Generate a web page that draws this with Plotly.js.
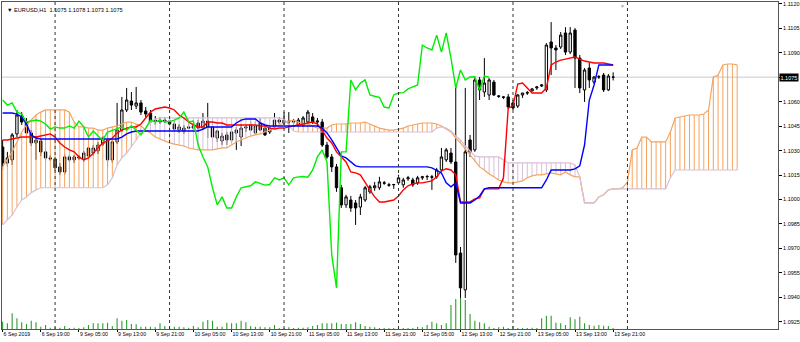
<!DOCTYPE html>
<html><head><meta charset="utf-8">
<script src="https://cdn.plot.ly/plotly-3.0.1.min.js"></script>
<style>html,body{margin:0;padding:0;background:#fff;}#chart{width:800px;height:342px;}</style>
</head><body><div id="chart"></div>
<script>
const symbol = 'EURUSD,H1';
const tickBars = [0,8,16,24,32,40,48,56,64,72,80,88,96,104,112,120,128];
const tickLabels = ['6 Sep 2019','6 Sep 19:00','9 Sep 05:00','9 Sep 13:00','9 Sep 21:00','10 Sep 05:00','10 Sep 13:00','10 Sep 21:00','11 Sep 05:00','11 Sep 13:00','11 Sep 21:00','12 Sep 05:00','12 Sep 13:00','12 Sep 21:00','13 Sep 05:00','13 Sep 13:00','13 Sep 21:00'];
const daySeparators = [11,35,59,83,107,131];
const priceTicks = [1.0925,1.0940,1.0955,1.0970,1.0985,1.1000,1.1015,1.1030,1.1045,1.1060,1.1075,1.1090,1.1105,1.1120];

const open = [1.10322,1.10224,1.10243,1.10402,1.10512,1.10475,1.10408,1.10347,1.10359,1.10292,
1.10255,1.10249,1.10200,1.10169,1.10261,1.10243,1.10261,1.10249,1.10267,1.10285,
1.10298,1.10340,1.10365,1.10243,1.10353,1.10426,1.10549,1.10604,1.10573,1.10592,
1.10543,1.10530,1.10487,1.10475,1.10487,1.10481,1.10463,1.10426,1.10420,1.10445,
1.10438,1.10469,1.10438,1.10481,1.10445,1.10377,1.10359,1.10396,1.10365,1.10408,
1.10383,1.10438,1.10457,1.10408,1.10469,1.10438,1.10414,1.10445,1.10487,1.10469,
1.10481,1.10475,1.10457,1.10457,1.10475,1.10506,1.10475,1.10475,1.10334,1.10261,
1.10200,1.10072,1.09967,1.09997,1.09979,1.09954,1.09997,1.10047,1.10072,1.10072,
1.10102,1.10090,1.10090,1.10102,1.10090,1.10127,1.10120,1.10102,1.10133,1.10139,
1.10139,1.10139,1.10181,1.10243,1.10285,1.10230,1.09672,1.09446,1.10365,1.10304,
1.10733,1.10659,1.10641,1.10720,1.10635,1.10629,1.10629,1.10592,1.10573,1.10641,
1.10653,1.10665,1.10684,1.10696,1.10672,1.10966,1.10929,1.10935,1.11021,1.10904,
1.11039,1.10867,1.10672,1.10806,1.10720,1.10751,1.10763,1.10672,1.1075];
const high = [1.10365,1.10292,1.10408,1.10549,1.10536,1.10500,1.10426,1.10389,1.10377,1.10310,
1.10273,1.10261,1.10224,1.10279,1.10273,1.10273,1.10273,1.10298,1.10328,1.10334,
1.10353,1.10389,1.10408,1.10365,1.10592,1.10629,1.10684,1.10659,1.10690,1.10610,
1.10567,1.10549,1.10512,1.10506,1.10506,1.10500,1.10481,1.10463,1.10457,1.10469,
1.10469,1.10487,1.10530,1.10592,1.10463,1.10426,1.10408,1.10414,1.10438,1.10445,
1.10463,1.10457,1.10481,1.10481,1.10500,1.10457,1.10451,1.10530,1.10506,1.10536,
1.10536,1.10494,1.10500,1.10512,1.10549,1.10530,1.10500,1.10494,1.10353,1.10279,
1.10218,1.10090,1.10029,1.10022,1.09997,1.10035,1.10084,1.10090,1.10108,1.10139,
1.10114,1.10102,1.10096,1.10151,1.10133,1.10145,1.10133,1.10145,1.10145,1.10151,
1.10151,1.10194,1.10316,1.10316,1.10316,1.10702,1.09709,1.10684,1.10396,1.10745,
1.10751,1.10867,1.10745,1.10733,1.10641,1.10635,1.10647,1.10610,1.10647,1.10653,
1.10665,1.10684,1.10696,1.10708,1.10959,1.11088,1.10947,1.11027,1.11057,1.11057,
1.11051,1.10886,1.10806,1.10837,1.10757,1.10763,1.10776,1.10769,1.1078];
const low = [1.10181,1.10200,1.10212,1.10383,1.10457,1.10389,1.10328,1.10243,1.10267,1.10237,
1.10237,1.10175,1.10151,1.10151,1.10230,1.10224,1.10243,1.10230,1.10249,1.10267,
1.10279,1.10328,1.10200,1.10224,1.10340,1.10414,1.10536,1.10549,1.10555,1.10518,
1.10506,1.10463,1.10457,1.10463,1.10469,1.10451,1.10420,1.10408,1.10402,1.10432,
1.10420,1.10420,1.10426,1.10377,1.10371,1.10353,1.10334,1.10334,1.10347,1.10304,
1.10328,1.10414,1.10420,1.10396,1.10420,1.10389,1.10402,1.10438,1.10463,1.10457,
1.10408,1.10463,1.10445,1.10445,1.10463,1.10463,1.10445,1.10322,1.10249,1.10169,
1.10047,1.09948,1.09948,1.09924,1.09844,1.09905,1.09985,1.10035,1.10053,1.10059,
1.10090,1.10078,1.10065,1.10090,1.10072,1.10114,1.10078,1.10090,1.10120,1.10120,
1.10059,1.10127,1.10169,1.10230,1.10218,1.09611,1.09263,1.09396,1.10261,1.10292,
1.10610,1.10629,1.10610,1.10635,1.10623,1.10616,1.10555,1.10549,1.10561,1.10623,
1.10641,1.10667,1.10672,1.10690,1.10659,1.10763,1.10794,1.10923,1.10886,1.10892,
1.10684,1.10653,1.10598,1.10684,1.10708,1.10739,1.10659,1.10665,1.1073];
const close = [1.10224,1.10255,1.10396,1.10518,1.10475,1.10408,1.10347,1.10365,1.10292,1.10255,
1.10249,1.10194,1.10169,1.10261,1.10243,1.10261,1.10255,1.10285,1.10316,1.10316,
1.10334,1.10377,1.10243,1.10353,1.10426,1.10549,1.10610,1.10579,1.10592,1.10536,
1.10524,1.10475,1.10481,1.10487,1.10481,1.10463,1.10432,1.10445,1.10438,1.10438,
1.10451,1.10438,1.10481,1.10445,1.10383,1.10420,1.10389,1.10365,1.10414,1.10426,
1.10438,1.10445,1.10426,1.10451,1.10426,1.10396,1.10438,1.10487,1.10475,1.10487,
1.10475,1.10478,1.10487,1.10500,1.10536,1.10475,1.10481,1.10334,1.10261,1.10200,
1.10072,1.09967,1.10016,1.09948,1.09948,1.10016,1.10072,1.10078,1.10084,1.10108,
1.10100,1.10088,1.10092,1.10133,1.10120,1.10133,1.10090,1.10133,1.10139,1.10141,
1.10137,1.10181,1.10261,1.10304,1.10230,1.09660,1.09458,1.10292,1.10292,1.10733,
1.10672,1.10714,1.10733,1.10641,1.10633,1.10627,1.10567,1.10561,1.10641,1.10653,
1.10655,1.10678,1.10690,1.10702,1.10947,1.10929,1.10917,1.11008,1.10904,1.11021,
1.10867,1.10684,1.10794,1.10733,1.10751,1.10753,1.10672,1.10757,1.1075];
const volume = [2200,1700,4700,3200,2000,1500,2500,2000,700,1200,
400,500,400,900,300,400,300,500,1200,1700,
1700,1700,1900,900,3200,2500,2700,1500,1400,700,
700,700,500,1700,900,300,700,700,500,400,
900,500,2200,2700,2500,700,700,1900,1700,1700,
2500,2000,900,700,700,500,500,1200,300,300,
500,300,400,400,500,900,1200,1700,1700,1700,
1900,1500,1500,1500,2000,1500,900,700,500,300,
300,300,300,300,300,300,300,700,500,1200,
2200,1700,1200,1700,7200,9000,9300,8700,4500,2500,
2000,1700,700,300,500,700,300,900,300,300,
300,400,300,3200,4000,4000,1900,1700,1200,3500,
2900,3700,1700,1200,1000,1200,1000,900,300];
const tenkan = [1.10365,1.10365,1.10371,1.10377,1.10383,1.10383,1.10383,1.10383,1.10389,1.10396,
1.10402,1.10383,1.10347,1.10322,1.10304,1.10292,1.10261,1.10243,1.10255,1.10285,
1.10316,1.10347,1.10359,1.10377,1.10408,1.10426,1.10438,1.10445,1.10445,1.10463,
1.10500,1.10536,1.10555,1.10561,1.10567,1.10561,1.10549,1.10518,1.10500,1.10475,
1.10457,1.10445,1.10445,1.10475,1.10475,1.10469,1.10469,1.10457,1.10457,1.10457,
1.10457,1.10457,1.10457,1.10457,1.10451,1.10451,1.10438,1.10432,1.10438,1.10438,
1.10445,1.10451,1.10457,1.10463,1.10469,1.10475,1.10463,1.10426,1.10377,1.10347,
1.10292,1.10261,1.10230,1.10169,1.10163,1.10151,1.10102,1.10059,1.10016,1.09985,
1.09985,1.09991,1.09997,1.10022,1.10059,1.10084,1.10096,1.10102,1.10102,1.10108,
1.10114,1.10139,1.10175,1.10188,1.10181,1.10151,1.09985,1.09985,1.09985,1.10004,
1.10010,1.10065,1.10065,1.10065,1.10065,1.10133,1.10561,1.10573,1.10708,1.10714,
1.10684,1.10653,1.10653,1.10653,1.10684,1.10825,1.10843,1.10855,1.10861,1.10867,
1.10874,1.10861,1.10849,1.10843,1.10837,1.10837,1.10837,1.10831,1.10825];
const kijun = [1.10530,1.10530,1.10530,1.10524,1.10506,1.10463,1.10396,1.10377,1.10371,1.10371,
1.10371,1.10371,1.10371,1.10371,1.10371,1.10371,1.10371,1.10371,1.10371,1.10371,
1.10371,1.10371,1.10371,1.10371,1.10371,1.10383,1.10402,1.10414,1.10420,1.10420,
1.10420,1.10420,1.10420,1.10420,1.10420,1.10420,1.10420,1.10420,1.10420,1.10420,
1.10420,1.10420,1.10432,1.10445,1.10445,1.10445,1.10445,1.10445,1.10445,1.10469,
1.10487,1.10494,1.10494,1.10494,1.10469,1.10457,1.10451,1.10451,1.10451,1.10451,
1.10451,1.10451,1.10451,1.10451,1.10451,1.10451,1.10451,1.10438,1.10408,1.10365,
1.10316,1.10267,1.10255,1.10230,1.10206,1.10200,1.10200,1.10200,1.10200,1.10200,
1.10200,1.10200,1.10200,1.10200,1.10200,1.10200,1.10200,1.10200,1.10200,1.10200,
1.10194,1.10181,1.10163,1.10102,1.10078,1.10102,1.09979,1.09979,1.09979,1.09997,
1.10022,1.10065,1.10072,1.10072,1.10072,1.10072,1.10072,1.10072,1.10072,1.10072,
1.10072,1.10072,1.10072,1.10072,1.10120,1.10181,1.10181,1.10181,1.10181,1.10181,
1.10188,1.10206,1.10334,1.10610,1.10702,1.10825,1.10825,1.10825,1.10825];
const senkouA = [1.10200,1.10243,1.10292,1.10353,1.10414,1.10457,1.10487,1.10518,1.10536,1.10549,
1.10549,1.10549,1.10549,1.10549,1.10536,1.10475,1.10445,1.10445,1.10438,1.10438,
1.10426,1.10426,1.10438,1.10445,1.10451,1.10463,1.10475,1.10475,1.10463,1.10451,
1.10426,1.10408,1.10383,1.10371,1.10359,1.10347,1.10340,1.10334,1.10328,1.10316,
1.10310,1.10304,1.10304,1.10304,1.10304,1.10310,1.10316,1.10316,1.10334,1.10353,
1.10365,1.10377,1.10389,1.10396,1.10402,1.10414,1.10426,1.10445,1.10457,1.10469,
1.10481,1.10487,1.10475,1.10463,1.10463,1.10451,1.10438,1.10438,1.10438,1.10457,
1.10463,1.10463,1.10463,1.10469,1.10469,1.10469,1.10475,1.10463,1.10451,1.10438,
1.10432,1.10426,1.10426,1.10432,1.10438,1.10451,1.10457,1.10463,1.10469,1.10469,
1.10469,1.10463,1.10451,1.10432,1.10414,1.10377,1.10347,1.10310,1.10273,1.10230,
1.10200,1.10181,1.10157,1.10139,1.10120,1.10108,1.10102,1.10102,1.10108,1.10114,
1.10133,1.10145,1.10151,1.10151,1.10157,1.10163,1.10157,1.10151,1.10169,1.10151,
1.10139,1.10139,1.09979,1.09979,1.09979,1.10016,1.10029,1.10059,1.10065,1.10065,
1.10072,1.10108,1.10304,1.10316,1.10383,1.10383,1.10353,1.10353,1.10353,1.10353,
1.10414,1.10500,1.10506,1.10512,1.10518,1.10518,1.10518,1.10524,1.10549,1.10751,
1.10763,1.10825,1.10831,1.10831,1.10825];
const senkouB = [1.09844,1.09875,1.09905,1.09954,1.09997,1.10016,1.10041,1.10059,1.10072,1.10072,
1.10072,1.10072,1.10072,1.10072,1.10072,1.10072,1.10072,1.10072,1.10072,1.10072,
1.10072,1.10072,1.10090,1.10133,1.10212,1.10255,1.10285,1.10322,1.10365,1.10408,
1.10438,1.10475,1.10494,1.10500,1.10500,1.10500,1.10500,1.10500,1.10500,1.10500,
1.10500,1.10500,1.10500,1.10500,1.10500,1.10500,1.10500,1.10500,1.10500,1.10500,
1.10500,1.10500,1.10500,1.10500,1.10500,1.10500,1.10500,1.10500,1.10500,1.10494,
1.10457,1.10420,1.10414,1.10414,1.10414,1.10414,1.10414,1.10414,1.10414,1.10414,
1.10414,1.10414,1.10414,1.10414,1.10414,1.10414,1.10414,1.10414,1.10414,1.10414,
1.10414,1.10414,1.10414,1.10414,1.10414,1.10414,1.10414,1.10414,1.10414,1.10414,
1.10414,1.10438,1.10445,1.10438,1.10420,1.10389,1.10365,1.10328,1.10298,1.10267,
1.10261,1.10261,1.10261,1.10261,1.10261,1.10243,1.10224,1.10224,1.10224,1.10224,
1.10224,1.10224,1.10224,1.10224,1.10224,1.10224,1.10224,1.10224,1.10224,1.10224,
1.10212,1.10139,1.09979,1.09979,1.09979,1.10016,1.10029,1.10059,1.10065,1.10065,
1.10065,1.10065,1.10065,1.10065,1.10065,1.10065,1.10065,1.10065,1.10065,1.10065,
1.10133,1.10181,1.10181,1.10181,1.10181,1.10181,1.10181,1.10181,1.10181,1.10181,
1.10181,1.10181,1.10181,1.10181,1.10181];
const chikouShift = 26;

const FONT = 'Liberation Sans, Arial, sans-serif';
const nBars = close.length;
const idx = close.map((_, i) => i);
const traces = [];
const last = nBars - 1;

// cloud hatching (vertical lines between the two spans at each bar)
const hUp = {x: [], y: []}, hDn = {x: [], y: []};
for (let i = 0; i < senkouA.length; i++) {
  const t = senkouA[i] >= senkouB[i] ? hUp : hDn;
  t.x.push(i, i, null); t.y.push(senkouA[i], senkouB[i], null);
}
traces.push({type:'scatter', mode:'lines', x:hUp.x, y:hUp.y, line:{color:'#F4A460', width:1}, hoverinfo:'skip'});
traces.push({type:'scatter', mode:'lines', x:hDn.x, y:hDn.y, line:{color:'#D8BFD8', width:1}, hoverinfo:'skip'});
const spanIdx = senkouA.map((_, i) => i);
traces.push({type:'scatter', mode:'lines', x:spanIdx, y:senkouA, line:{color:'#F4A460', width:1.2}});
traces.push({type:'scatter', mode:'lines', x:spanIdx, y:senkouB, line:{color:'#D8BFD8', width:1.2}});

// volumes
const vx = [], vy = [];
volume.forEach((v, i) => { vx.push(i, i, null); vy.push(0, v, null); });
traces.push({type:'scatter', mode:'lines', x:vx, y:vy, yaxis:'y2', line:{color:'#2f9a2f', width:1.1}});

// tenkan, kijun, chikou
traces.push({type:'scatter', mode:'lines', x:idx, y:tenkan, line:{color:'#FF0000', width:1.4}});
traces.push({type:'scatter', mode:'lines', x:idx, y:kijun, line:{color:'#0000FF', width:1.4}});
traces.push({type:'scatter', mode:'lines', x:idx.slice(chikouShift).map(i => i - chikouShift), y:close.slice(chikouShift), line:{color:'#00EE00', width:1.4}});

// candles
traces.push({type:'candlestick', x:idx, open:open, high:high, low:low, close:close,
  whiskerwidth:0,
  increasing:{line:{color:'#000', width:1}, fillcolor:'#fff'},
  decreasing:{line:{color:'#000', width:1}, fillcolor:'#000'}});

const shapes = daySeparators.map(d => ({type:'line', xref:'x', yref:'paper', x0:d, x1:d, y0:0, y1:1,
  line:{color:'#333', width:1, dash:'dot'}}));
shapes.unshift({type:'line', xref:'paper', yref:'y', x0:0, x1:1, y0:close[last], y1:close[last],
  line:{color:'#dcdcdc', width:1.5}, layer:'below'});

const layout = {
  width:800, height:342, margin:{l:2, r:22, t:2, b:13},
  paper_bgcolor:'#fff', plot_bgcolor:'#fff', showlegend:false,
  font:{family:FONT, size:5.5, color:'#000'},
  xaxis:{range:[-0.13, 162.56], tickvals:tickBars, ticktext:tickLabels, tickangle:0, ticks:'outside', ticklen:2,
    tickcolor:'#000', tickfont:{family:FONT, size:5.2, color:'#000'}, ticklabelposition:'outside right',
    showgrid:false, zeroline:false, showline:true, mirror:true, linecolor:'#555', linewidth:1,
    rangeslider:{visible:false}, fixedrange:true},
  yaxis:{range:[1.09206, 1.11211], side:'right', tickvals:priceTicks,
    ticktext:priceTicks.map(p => Math.abs(p - close[last]) < 1e-6 ? '' : p.toFixed(4)),
    ticks:'outside', ticklen:3, tickcolor:'#000', tickfont:{family:FONT, size:5.5, color:'#000'},
    showgrid:false, zeroline:false, showline:true, mirror:true, linecolor:'#555', linewidth:1, fixedrange:true},
  yaxis2:{overlaying:'y', range:[0, 98100], visible:false, fixedrange:true},
  shapes:shapes,
  annotations:[
    {xref:'paper', yref:'paper', x:0, y:1, xanchor:'left', yanchor:'top', xshift:3, yshift:-3, showarrow:false,
     text:'\u25BC ' + symbol + '  ' + [open[last], high[last], low[last], close[last]].map(v => v.toFixed(4)).join(' '),
     font:{family:FONT, size:5.6, color:'#000'}},
    {xref:'paper', yref:'y', x:1, y:close[last], xanchor:'left', yanchor:'middle', xshift:1, showarrow:false,
     text:close[last].toFixed(4), bgcolor:'#000', font:{family:FONT, size:5.5, color:'#fff'}, borderpad:0.5},
    {xref:'x', yref:'paper', x:nBars + 1, y:1, yanchor:'top', showarrow:false, text:'\u25BC', yshift:1,
     font:{family:FONT, size:5, color:'#aaa'}}
  ]
};
Plotly.newPlot('chart', traces, layout, {staticPlot:true});
</script></body></html>
